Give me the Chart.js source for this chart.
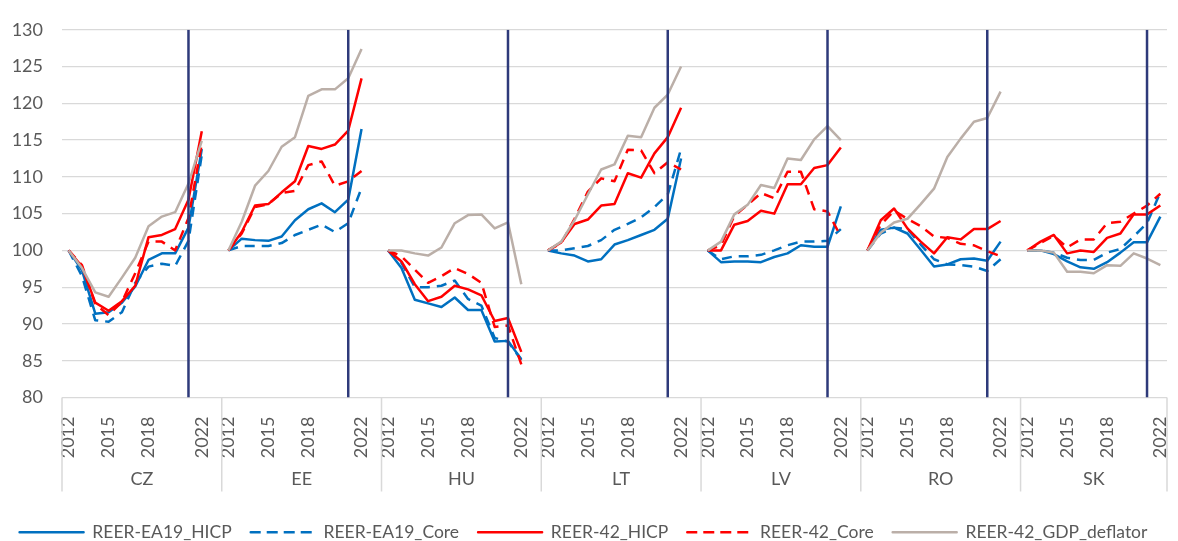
<!DOCTYPE html>
<html>
<head>
<meta charset="utf-8">
<script src="https://cdn.jsdelivr.net/npm/chart.js@4/dist/chart.umd.min.js"></script>
<style>
  html, body { margin: 0; padding: 0; background: #fff; }
</style>
</head>
<body>
<canvas id="reer" width="1178" height="541"></canvas>
<script>
const COUNTRIES = ['CZ', 'EE', 'HU', 'LT', 'LV', 'RO', 'SK'];
const YEARS = ['2012', '2013', '2014', '2015', '2016', '2017', '2018', '2019', '2020', '2021', '2022'];
const YEAR_TICKS = ['2012', '2015', '2018', '2022'];
const MARK_YEAR = '2021';
const Y_MIN = 80;
const Y_MAX = 130;
const Y_STEP = 5;

const EA19_HICP = {
  CZ: [100, 97.3, 91.4, 91.6, 92.9, 95.1, 98.7, 99.6, 99.6, 103.1, 113.8],
  EE: [100, 101.6, 101.4, 101.3, 101.9, 104.1, 105.6, 106.4, 105.2, 106.9, 116.5],
  HU: [100, 97.6, 93.3, 92.8, 92.3, 93.6, 91.9, 91.9, 87.6, 87.7, 85.2],
  LT: [100, 99.6, 99.3, 98.5, 98.8, 100.8, 101.4, 102.1, 102.8, 104.3, 112.5],
  LV: [100, 98.4, 98.5, 98.5, 98.4, 99.1, 99.6, 100.7, 100.5, 100.5, 106],
  RO: [100, 102.8, 103.1, 102.3, 100.1, 97.8, 98.1, 98.8, 98.9, 98.6, 101.2],
  SK: [100, 100, 99.5, 98.5, 97.7, 97.5, 98.4, 99.7, 101.1, 101.1, 104.6],
};
const EA19_CORE = {
  CZ: [100, 96.5, 90.5, 90.3, 91.6, 95.6, 97.8, 98.2, 97.9, 101.3, 113],
  EE: [100, 100.6, 100.6, 100.6, 101, 102.1, 102.8, 103.5, 102.5, 103.7, 108.5],
  HU: [100, 98.3, 95, 95, 95.2, 95.9, 93.4, 92.5, 88.1, 87.6, 85.1],
  LT: [100, 100, 100.3, 100.6, 101.4, 102.8, 103.6, 104.5, 105.9, 107.6, 113.8],
  LV: [100, 98.8, 99.2, 99.2, 99.4, 100, 100.7, 101.2, 101.2, 101.3, 102.9],
  RO: [100, 102.3, 103.1, 102.9, 100.8, 98.8, 98.1, 98, 97.8, 97.2, 98.8],
  SK: [100, 100, 99.7, 99, 98.7, 98.7, 99.7, 100.2, 101.9, 103.7, 107.9],
};
const R42_HICP = {
  CZ: [100, 97.8, 92.9, 91.8, 93.1, 95.2, 101.8, 102.1, 102.9, 106.9, 116.2],
  EE: [100, 102.5, 106.1, 106.3, 107.9, 109.4, 114.2, 113.8, 114.4, 116.3, 123.4],
  HU: [100, 98.5, 95.4, 93.1, 93.7, 95.2, 94.7, 93.9, 90.4, 90.8, 86.2],
  LT: [100, 101.1, 103.6, 104.2, 106.1, 106.3, 110.5, 109.9, 113.2, 115.4, 119.4],
  LV: [100, 100, 103.5, 104, 105.4, 105, 109, 109, 111.2, 111.6, 114],
  RO: [100, 104.1, 105.7, 103, 101.2, 99.6, 101.8, 101.5, 102.9, 102.9, 104],
  SK: [100, 101.2, 102.1, 99.6, 100, 99.8, 101.7, 102.3, 104.9, 104.9, 106.1],
};
const R42_CORE = {
  CZ: [100, 98, 92.7, 91.2, 93, 96.9, 101.2, 101.2, 100, 104.4, 114.5],
  EE: [100, 102.3, 105.9, 106.3, 107.8, 108.1, 111.6, 112.1, 108.8, 109.4, 110.8],
  HU: [100, 99.2, 97.4, 95.6, 96.5, 97.6, 96.8, 95.6, 89.6, 89.8, 84.5],
  LT: [100, 101, 104.3, 108, 109.8, 109.4, 113.7, 113.6, 110.5, 112, 111],
  LV: [100, 100.7, 104.7, 106.2, 107.8, 107.1, 110.7, 110.7, 105.6, 105.3, 101.9],
  RO: [100, 103.5, 105.4, 104.3, 103.3, 101.9, 101.7, 100.9, 100.7, 99.9, 99.2],
  SK: [100, 101, 102, 100.4, 101.5, 101.5, 103.7, 103.9, 105, 106.1, 107.7],
};
const R42_GDP = {
  CZ: [100, 97.6, 94.3, 93.7, 96.3, 99, 103.3, 104.6, 105.2, 109.1, 114.9],
  EE: [100, 103.9, 108.8, 110.8, 114.1, 115.4, 121, 121.9, 121.9, 123.4, 127.4],
  HU: [100, 100, 99.6, 99.3, 100.4, 103.7, 104.8, 104.9, 103, 103.8, 95.4],
  LT: [100, 101.2, 104.1, 107.6, 111, 111.7, 115.6, 115.4, 119.4, 121.2, 125],
  LV: [100, 101.2, 104.9, 106.2, 108.9, 108.5, 112.5, 112.3, 115.1, 116.9, 115],
  RO: [100, 102.4, 103.8, 104.3, 106.3, 108.4, 112.7, 115.2, 117.5, 118, 121.6],
  SK: [100, 100, 99.7, 97.1, 97.1, 96.9, 98, 97.9, 99.6, 98.9, 98],
};

const TEXT = '#595959';
const GRID = '#d9d9d9';
const FONT = 'Lato';

// one category per country-year, plus an empty slot between countries
const labels = [];
COUNTRIES.forEach((c, i) => {
  YEARS.forEach((y) => labels.push(c + ' ' + y));
  if (i < COUNTRIES.length - 1) labels.push(c + ' -');
});

function flatten(series) {
  const out = [];
  COUNTRIES.forEach((c, i) => {
    out.push(...series[c]);
    if (i < COUNTRIES.length - 1) out.push(null);
  });
  return out;
}

// vertical marker at MARK_YEAR for every country
const markData = [];
COUNTRIES.forEach((c) => {
  const key = c + ' ' + MARK_YEAR;
  markData.push({ x: key, y: Y_MIN }, { x: key, y: Y_MAX }, { x: key, y: null });
});

function line(label, series, color, dashed, order) {
  return {
    label,
    data: flatten(series),
    borderColor: color,
    backgroundColor: color,
    borderWidth: 2.5,
    borderDash: dashed ? [10, 7] : [],
    borderJoinStyle: 'round',
    pointRadius: 0,
    tension: 0,
    spanGaps: false,
    order,
  };
}

const groupAxis = {
  id: 'groupAxis',
  afterDraw(chart) {
    const { ctx, chartArea, scales } = chart;
    const x = scales.x;
    const half = (x.getPixelForValue(1) - x.getPixelForValue(0)) / 2;
    const top = chartArea.bottom;
    ctx.save();
    ctx.strokeStyle = GRID;
    ctx.lineWidth = 1.5;
    ctx.fillStyle = TEXT;
    ctx.font = '18px ' + FONT;
    ctx.textAlign = 'center';
    ctx.textBaseline = 'middle';
    COUNTRIES.forEach((c, i) => {
      const left = x.getPixelForValue(labels.indexOf(c + ' ' + YEARS[0])) - half;
      const right = x.getPixelForValue(labels.indexOf(c + ' ' + YEARS[YEARS.length - 1])) + half;
      ctx.beginPath();
      ctx.moveTo(left, top);
      ctx.lineTo(left, top + 94);
      if (i === COUNTRIES.length - 1) {
        ctx.moveTo(right, top);
        ctx.lineTo(right, top + 94);
      }
      ctx.stroke();
      const next = i < COUNTRIES.length - 1
        ? x.getPixelForValue(labels.indexOf(COUNTRIES[i + 1] + ' ' + YEARS[0])) - half
        : right;
      ctx.fillText(c, (left + next) / 2, top + 82);
    });
    ctx.restore();
  },
};

Chart.defaults.font.family = FONT;
Chart.defaults.color = TEXT;

new Chart(document.getElementById('reer'), {
  type: 'line',
  data: {
    labels,
    datasets: [
      line('REER-EA19_HICP', EA19_HICP, '#0070C0', false, 6),
      line('REER-EA19_Core', EA19_CORE, '#0070C0', true, 5),
      line('REER-42_HICP', R42_HICP, '#FF0000', false, 4),
      line('REER-42_Core', R42_CORE, '#FF0000', true, 3),
      line('REER-42_GDP_deflator', R42_GDP, '#BBAFA8', false, 2),
      {
        label: '',
        data: markData,
        borderColor: '#2E3A7A',
        backgroundColor: '#2E3A7A',
        borderWidth: 2.5,
        pointRadius: 0,
        spanGaps: false,
        order: 1,
      },
    ],
  },
  options: {
    responsive: false,
    animation: false,
    layout: { padding: { top: 21, right: 11, bottom: -10, left: 0 } },
    scales: {
      x: {
        type: 'category',
        offset: true,
        grid: { display: false, drawTicks: false },
        border: { display: false },
        ticks: {
          autoSkip: false,
          minRotation: 90,
          maxRotation: 90,
          padding: 19,
          font: { size: 18 },
          callback(value) {
            const yr = this.getLabelForValue(value).split(' ')[1];
            return YEAR_TICKS.includes(yr) ? yr : '';
          },
        },
        afterFit(s) {
          s.height = 107;
          s.paddingLeft = 0;
          s.paddingRight = 0;
        },
      },
      y: {
        min: Y_MIN,
        max: Y_MAX,
        grid: { color: GRID, lineWidth: 1.3, drawTicks: false },
        border: { display: false },
        ticks: { stepSize: Y_STEP, padding: 19, font: { size: 18 } },
        afterFit(s) {
          s.width = 62;
        },
      },
    },
    plugins: {
      tooltip: { enabled: false },
      legend: {
        position: 'bottom',
        labels: {
          boxWidth: 64,
          boxHeight: 0,
          padding: 19,
          font: { size: 17.5 },
          filter: (item) => item.text !== '',
          sort: (a, b) => a.datasetIndex - b.datasetIndex,
        },
      },
    },
  },
  plugins: [groupAxis],
});
</script>
</body>
</html>
